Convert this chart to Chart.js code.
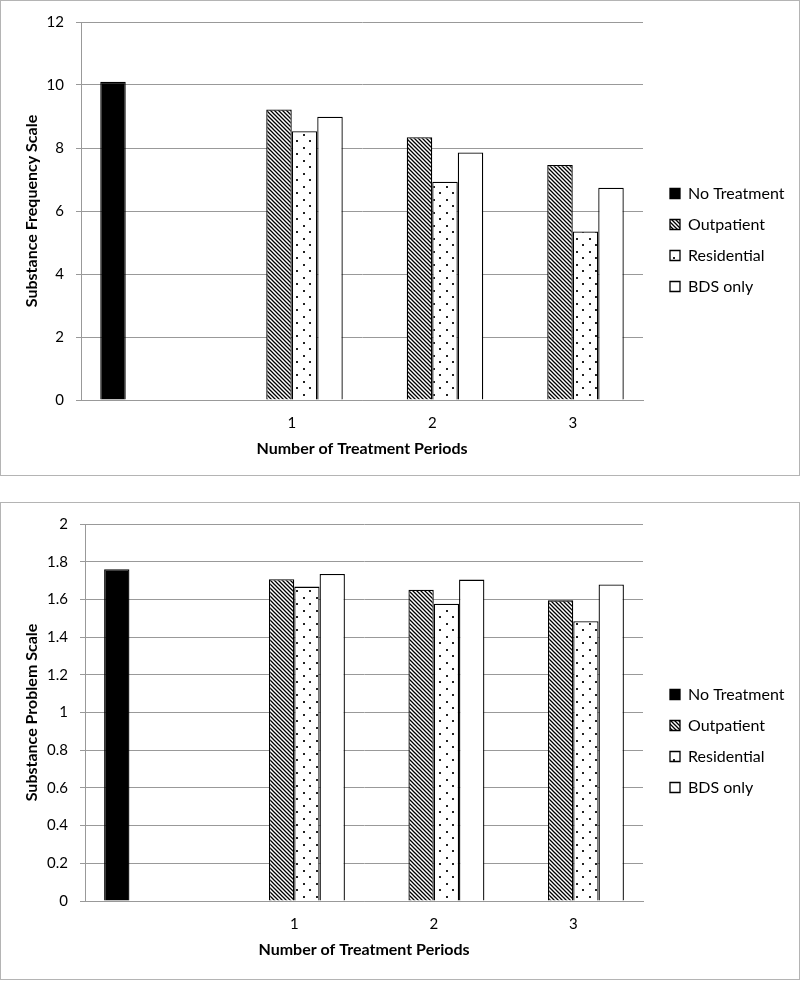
<!DOCTYPE html>
<html>
<head>
<meta charset="utf-8">
<script src="https://cdn.jsdelivr.net/npm/chart.js@4.4.1/dist/chart.umd.min.js"></script>
<style>
  html, body { margin: 0; padding: 0; background: #fff; }
  body { width: 800px; height: 981px; position: relative; overflow: hidden; }
  .box { position: absolute; left: 0; width: 800px; box-sizing: border-box; border: 1px solid #b4b4b4; background: #fff; }
  #box1 { top: 0; height: 476px; }
  #box2 { top: 502px; height: 478px; }
  canvas { display: block; }
</style>
</head>
<body>
<div class="box" id="box1"><canvas id="c1" width="798" height="474"></canvas></div>
<div class="box" id="box2"><canvas id="c2" width="798" height="476"></canvas></div>
<script>
// ---------- data ----------
const categories = ['', '1', '2', '3'];
const seriesNames = ['No Treatment', 'Outpatient', 'Residential', 'BDS only'];

const freqNoTreatment = [10.10, null, null, null];
const freqOutpatient  = [null, 9.22, 8.34, 7.46];
const freqResidential = [null, 8.53, 6.93, 5.35];
const freqBDS         = [null, 8.99, 7.86, 6.74];

const probNoTreatment = [1.76, null, null, null];
const probOutpatient  = [null, 1.707, 1.651, 1.595];
const probResidential = [null, 1.668, 1.577, 1.484];
const probBDS         = [null, 1.735, 1.705, 1.679];

const freqAxisTitle = 'Substance Frequency Scale';
const probAxisTitle = 'Substance Problem Scale';
const xAxisTitle = 'Number of Treatment Periods';
const freqTicks = { min: 0, max: 12, step: 2 };
const probTicks = { min: 0, max: 2, step: 0.2 };

// ---------- patterns ----------
function hatchPattern() {
  const c = document.createElement('canvas'); c.width = 4; c.height = 4;
  const g = c.getContext('2d');
  g.fillStyle = '#fff'; g.fillRect(0, 0, 4, 4);
  g.strokeStyle = '#000'; g.lineWidth = 1.3;
  g.beginPath();
  g.moveTo(-1, -1); g.lineTo(5, 5);
  g.moveTo(3, -1); g.lineTo(5, 1);
  g.moveTo(-1, 3); g.lineTo(1, 5);
  g.stroke();
  return g.createPattern(c, 'repeat');
}
function dotPattern() {
  const c = document.createElement('canvas'); c.width = 13; c.height = 13;
  const g = c.getContext('2d');
  g.fillStyle = '#fff'; g.fillRect(0, 0, 13, 13);
  g.fillStyle = '#222';
  g.fillRect(3, 3, 2, 2);
  g.fillRect(9, 9, 2, 2);
  return g.createPattern(c, 'repeat');
}

Chart.defaults.font.family = 'Lato, "Open Sans", sans-serif';
Chart.defaults.color = '#000';

// legend placement helper: fixed width, shifted box
const legendPlace = {
  id: 'legendPlace',
  beforeLayout(chart, args, opts) {
    const lg = chart.legend;
    if (lg && !lg._placePatched) {
      const fit = lg.fit.bind(lg);
      lg.fit = function () { fit(); this.width = opts.width; };
      lg._placePatched = true;
    }
  },
  afterLayout(chart, args, opts) {
    const lg = chart.legend;
    if (!lg) return;
    lg.left += opts.dx; lg.right += opts.dx;
    lg.top += opts.dy; lg.bottom += opts.dy;
  }
};

function makeChart(id, vals, title, ticksDef, cfg) {
  const fills = ['#000', hatchPattern(), dotPattern(), '#fff'];
  const datasets = vals.map((d, i) => ({
    label: seriesNames[i],
    data: d,
    backgroundColor: fills[i],
    borderColor: '#000',
    borderWidth: 1.3,
    categoryPercentage: 0.726,
    barPercentage: 1.0
  }));
  return new Chart(document.getElementById(id), {
    type: 'bar',
    data: { labels: categories, datasets },
    plugins: [legendPlace],
    options: {
      responsive: false,
      animation: false,
      devicePixelRatio: 1,
      layout: { padding: { top: cfg.padTop, left: 0, right: 0, bottom: 0 } },
      plugins: {
        tooltip: { enabled: false },
        legendPlace: { width: 156, dx: cfg.legendDx, dy: cfg.legendDy },
        legend: {
          position: 'right',
          align: 'center',
          labels: {
            boxWidth: 10, boxHeight: 10, padding: 15,
            font: { size: 16 }, color: '#000'
          }
        }
      },
      scales: {
        x: {
          grid: { display: false, drawTicks: false },
          border: { display: true, color: '#999', width: 1 },
          ticks: { font: { size: 15 }, color: '#000', padding: cfg.xTickPad },
          title: { display: true, text: xAxisTitle, font: { size: 16, weight: 'bold' }, color: '#000',
                   padding: { top: 0, bottom: cfg.xTitlePad } },
          afterFit(s) { s.height = cfg.xHeight; }
        },
        y: {
          min: ticksDef.min, max: ticksDef.max,
          ticks: {
            stepSize: ticksDef.step, font: { size: 15 }, color: '#000', padding: 12,
            callback: (v) => String(Math.round(v * 10) / 10)
          },
          grid: { color: '#999', lineWidth: 1, tickLength: 5, drawTicks: true },
          border: { display: true, color: '#999', width: 1 },
          title: { display: true, text: title, font: { size: 16, weight: 'bold' }, color: '#000',
                   padding: { top: 21, bottom: 0 } },
          afterFit(s) { s.width = cfg.yWidth; }
        }
      }
    }
  });
}

makeChart('c1', [freqNoTreatment, freqOutpatient, freqResidential, freqBDS], freqAxisTitle, freqTicks,
  { padTop: 18, yWidth: 80, xHeight: 75, xTickPad: 14, xTitlePad: 17, legendDx: 12, legendDy: -7 });
makeChart('c2', [probNoTreatment, probOutpatient, probResidential, probBDS], probAxisTitle, probTicks,
  { padTop: 18, yWidth: 84, xHeight: 78, xTickPad: 14, xTitlePad: 20, legendDx: 12, legendDy: -9 });
</script>
</body>
</html>
